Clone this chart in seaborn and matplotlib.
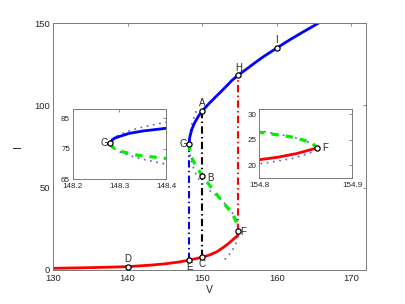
import matplotlib
matplotlib.use('Agg')
import matplotlib.pyplot as plt
import seaborn as sns

# upper (stable) branch, blue
upper_v = [148.28, 148.285, 148.29, 148.30, 148.32, 148.35, 148.40, 148.6, 149.0, 149.5, 150.0,
           151, 152, 153, 154, 154.862, 156, 157, 158, 159, 160, 161, 162, 163, 164, 165, 165.6]
upper_i = [76.8, 77.9, 78.5, 79.0, 80.0, 80.8, 81.7, 85.3, 89.5, 93.4, 96.5,
           101.5, 106.0, 110.5, 115.2, 118.5, 122.2, 125.6, 128.9, 131.9, 134.8, 137.7, 140.5, 143.2, 145.8, 148.4, 150.0]

# middle (unstable) branch, green
mid_v = [148.28, 148.285, 148.30, 148.34, 148.40, 148.55, 149.0, 149.5, 150.0, 150.7, 151.65,
         152.8, 153.7, 154.3, 154.6, 154.75, 154.80, 154.837, 154.857, 154.862]
mid_i = [76.8, 75.5, 74.2, 72.8, 71.8, 69.0, 64.5, 61.0, 57.0, 53.2, 47.7,
         41.0, 36.3, 32.0, 29.0, 27.3, 26.5, 25.5, 24.4, 23.4]

# lower (stable) branch, red
low_v = [130, 135, 140, 143, 145, 147, 148.28, 149, 150, 151, 152, 153, 153.7, 154.35,
         154.6, 154.8, 154.82, 154.84, 154.85, 154.862]
low_i = [1.0, 1.4, 2.0, 2.9, 3.7, 4.9, 6.0, 6.7, 7.7, 9.1, 11.1, 14.2, 16.7, 19.3,
         20.3, 21.1, 21.6, 22.3, 22.8, 23.4]

# dotted approximations around the two folds
dotg_v = [149.2, 149.0, 148.7, 148.5, 148.4, 148.35, 148.32, 148.30, 148.29, 148.283, 148.28,
          148.283, 148.29, 148.30, 148.32, 148.35, 148.4, 148.5, 148.7, 149.0, 149.5, 150.2]
dotg_i = [96.5, 93.8, 89.8, 86.2, 83.7, 82.1, 80.8, 79.6, 78.8, 78.0, 76.8,
          75.6, 74.8, 74.0, 72.8, 71.5, 69.9, 67.4, 63.8, 59.8, 55.5, 51.5]
dotf_v = [151.0, 152.0, 152.8, 153.7, 154.3, 154.6, 154.75, 154.8, 154.837, 154.857, 154.862,
          154.857, 154.837, 154.812, 154.8, 154.75, 154.6, 154.3, 154.0, 153.5, 153.0, 152.7]
dotf_i = [48.3, 44.9, 41.5, 37.1, 32.9, 29.9, 27.6, 26.8, 25.5, 24.3, 23.4,
          22.6, 21.4, 20.6, 20.3, 19.2, 16.9, 13.9, 11.6, 8.6, 6.2, 4.7]

# jumps
jump_v = [148.28, 150.0, 154.862]
jump_lo = [6.0, 7.7, 23.4]
jump_hi = [76.8, 96.5, 118.5]
jump_c = ['blue', 'black', 'red']

# labelled points
pt_names = ['A', 'B', 'C', 'D', 'E', 'F', 'G', 'H', 'I']
pt_v = [150, 150, 150, 140, 148.28, 154.862, 148.28, 154.862, 160]
pt_i = [96.5, 57.0, 7.7, 2.0, 6.0, 23.4, 76.8, 118.5, 134.8]

sns.set_style('white')
plt.rcParams['font.family'] = ['Liberation Sans', 'DejaVu Sans']
GREY = '#7a7a7a'
TXT = '#262626'

DOT = (0, (1, 2.8))
DASH = (0, (2.3, 2.2))
DASHDOT = (0, (3.5, 1.6, 0.7, 1.6))


def curves(a, lw=2.0):
    sns.lineplot(x=dotg_v, y=dotg_i, sort=False, estimator=None, color='#5c5cd2',
                 lw=1.2, linestyle=DOT, ax=a)
    sns.lineplot(x=dotf_v, y=dotf_i, sort=False, estimator=None, color='#5c5cd2',
                 lw=1.2, linestyle=DOT, ax=a)
    sns.lineplot(x=upper_v, y=upper_i, sort=False, estimator=None, color='blue', lw=lw, ax=a)
    sns.lineplot(x=low_v, y=low_i, sort=False, estimator=None, color='red', lw=lw, ax=a)
    sns.lineplot(x=mid_v, y=mid_i, sort=False, estimator=None, color='#00ee00',
                 lw=lw + 0.3, linestyle=DASH, ax=a)


def style(a, size):
    for s in a.spines.values():
        s.set_color(GREY)
        s.set_linewidth(0.7)
    a.tick_params(direction='in', length=2.5, width=0.6, color=GREY, labelcolor=TXT,
                  labelsize=size, pad=2, top=True, right=True)


fig = plt.figure(figsize=(4.05, 3.04), dpi=100)
ax = fig.add_axes([0.131, 0.112, 0.773, 0.812])

for v, lo, hi, c in zip(jump_v, jump_lo, jump_hi, jump_c):
    sns.lineplot(x=[v, v], y=[lo, hi], sort=False, estimator=None, color=c, lw=1.5,
                 linestyle=DASHDOT, ax=ax)
curves(ax)
sns.scatterplot(x=pt_v, y=pt_i, s=14, marker='o', facecolor='white', edgecolor='black',
                linewidth=0.9, zorder=5, ax=ax)

offs = {'A': (0, 2, 'center', 'bottom'), 'B': (4, -1, 'left', 'center'),
        'C': (0, -1.5, 'center', 'top'), 'D': (0, 2, 'center', 'bottom'),
        'E': (0, -1.5, 'center', 'top'), 'F': (1.5, -0.5, 'left', 'center'),
        'G': (-1.5, 0, 'right', 'center'), 'H': (0, 1.5, 'center', 'bottom'),
        'I': (0, 2.5, 'center', 'bottom')}
for n, v, i in zip(pt_names, pt_v, pt_i):
    dx, dy, ha, va = offs[n]
    ax.annotate(n, (v, i), xytext=(dx, dy), textcoords='offset points', ha=ha, va=va,
                fontsize=7, color=TXT)

ax.set_xlim(130, 172)
ax.set_ylim(0, 150)
ax.set_xticks([130, 140, 150, 160, 170])
ax.set_yticks([0, 50, 100, 150])
style(ax, 6.8)
ax.tick_params(axis='x', pad=3)
ax.set_xlabel('V', fontsize=7.5, color=TXT, labelpad=1)
ax.set_ylabel('I', fontsize=7.5, color=TXT, labelpad=8)

# inset around G
ins1 = fig.add_axes([0.180, 0.411, 0.230, 0.230])
curves(ins1, lw=2.0)
sns.scatterplot(x=[pt_v[6]], y=[pt_i[6]], s=14, facecolor='white', edgecolor='black',
                linewidth=0.9, zorder=5, ax=ins1)
ins1.annotate('G', (pt_v[6], pt_i[6]), xytext=(-1.5, 0), textcoords='offset points',
              ha='right', va='center', fontsize=7, color=TXT)
ins1.set_xlim(148.2, 148.4)
ins1.set_ylim(65, 88)
ins1.set_xticks([148.2, 148.3, 148.4])
ins1.set_xticklabels(['148.2', '148.3', '148.4'])
ins1.set_yticks([65, 75, 85])
style(ins1, 5.8)
ins1.tick_params(axis='x', pad=3)

# inset around F
ins2 = fig.add_axes([0.640, 0.414, 0.230, 0.227])
curves(ins2, lw=2.0)
sns.scatterplot(x=[pt_v[5]], y=[pt_i[5]], s=14, facecolor='white', edgecolor='black',
                linewidth=0.9, zorder=5, ax=ins2)
ins2.annotate('F', (pt_v[5], pt_i[5]), xytext=(3.5, 0), textcoords='offset points',
              ha='left', va='center', fontsize=7, color=TXT)
ins2.set_xlim(154.8, 154.9)
ins2.set_ylim(17.5, 31)
ins2.set_xticks([154.8, 154.9])
ins2.set_xticklabels(['154.8', '154.9'])
ins2.set_yticks([20, 25, 30])
style(ins2, 5.8)
ins2.tick_params(axis='x', pad=3)

for a in (ins1, ins2):
    a.set_xlabel('')
    a.set_ylabel('')

plt.savefig('out.png', dpi=100)
